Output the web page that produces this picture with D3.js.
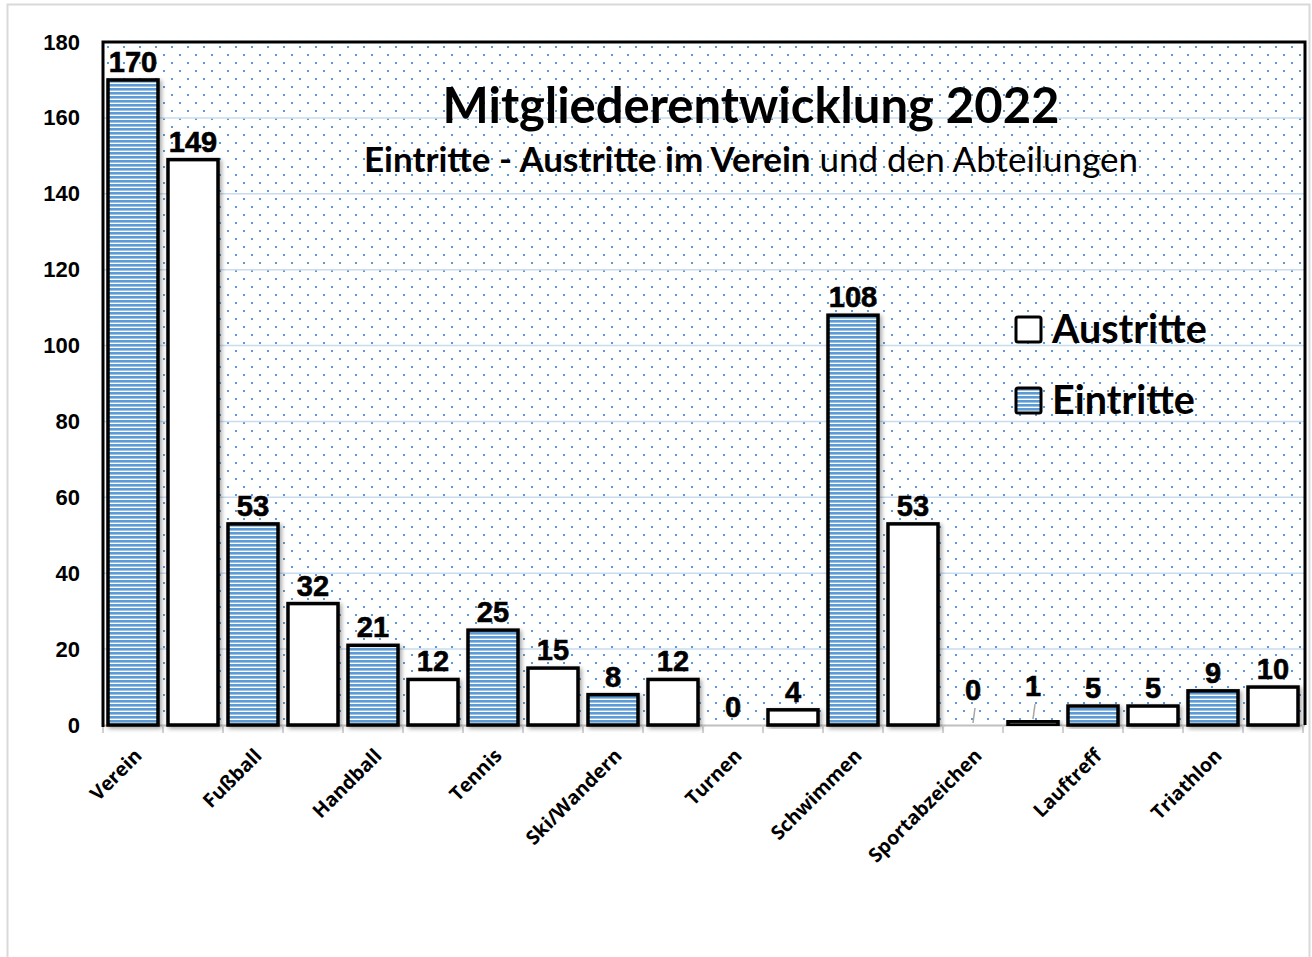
<!DOCTYPE html>
<html>
<head>
<meta charset="utf-8">
<script src="https://cdn.jsdelivr.net/npm/d3@7"></script>
<style>
  body { margin: 0; background: #fff; }
  svg { display: block; }
</style>
</head>
<body>
<div id="chart"></div>
<script>
// Data
const categories = ["Verein", "Fußball", "Handball", "Tennis", "Ski/Wandern", "Turnen", "Schwimmen", "Sportabzeichen", "Lauftreff", "Triathlon"];
const eintritte = [170, 53, 21, 25, 8, 0, 108, 0, 5, 9];
const austritte = [149, 32, 12, 15, 12, 4, 53, 1, 5, 10];
const yTicks = [0, 20, 40, 60, 80, 100, 120, 140, 160, 180];

const width = 1312;
const height = 957;
const plot = { left: 103, right: 1303, top: 42, bottom: 725 };

const blue = "#5b9bd5";

// one slot per bar: Eintritte first, then Austritte
const slots = [];
categories.forEach((c, i) => {
    slots.push({ key: c + "|E", cat: c, type: "E", value: eintritte[i], first: true });
    slots.push({ key: c + "|A", cat: c, type: "A", value: austritte[i], first: false });
});

const x = d3.scaleBand()
    .domain(slots.map(d => d.key))
    .range([plot.left, plot.right])
    .paddingInner(1 / 6)
    .paddingOuter(1 / 12);

const y = d3.scaleLinear()
    .domain([0, 180])
    .range([plot.bottom, plot.top]);

const svg = d3.select("#chart")
    .append("svg")
    .attr("width", width)
    .attr("height", height);

const defs = svg.append("defs");

// dotted background of the plot area
const dots = defs.append("pattern")
    .attr("id", "dots")
    .attr("patternUnits", "userSpaceOnUse")
    .attr("width", 16)
    .attr("height", 16)
    .attr("x", plot.left + 4)
    .attr("y", plot.top + 4);
dots.append("rect").attr("x", 0).attr("y", 0).attr("width", 2).attr("height", 2).attr("fill", blue);
dots.append("rect").attr("x", 8).attr("y", 8).attr("width", 2).attr("height", 2).attr("fill", blue);

// horizontal stripes for Eintritte
const stripes = defs.append("pattern")
    .attr("id", "stripes")
    .attr("patternUnits", "userSpaceOnUse")
    .attr("width", 8)
    .attr("height", 4);
stripes.append("rect").attr("width", 8).attr("height", 4).attr("fill", "#fff");
stripes.append("rect").attr("width", 8).attr("height", 2.6).attr("fill", blue);

const shadow = defs.append("filter")
    .attr("id", "shadow")
    .attr("x", "-20%").attr("y", "-20%")
    .attr("width", "140%").attr("height", "140%");
shadow.append("feDropShadow")
    .attr("dx", 2).attr("dy", 2)
    .attr("stdDeviation", 2)
    .attr("flood-color", "#000")
    .attr("flood-opacity", 0.35);

// outer frame
svg.append("rect")
    .attr("x", 7.5).attr("y", 4.5)
    .attr("width", 1302).attr("height", 960)
    .attr("fill", "#fff")
    .attr("stroke", "#d9d9d9")
    .attr("stroke-width", 2);

// plot background
svg.append("rect")
    .attr("x", plot.left).attr("y", plot.top)
    .attr("width", 1305 - plot.left).attr("height", plot.bottom - plot.top)
    .attr("fill", "url(#dots)");

// gridlines
svg.append("g")
    .selectAll("line")
    .data(yTicks.filter(t => t > 0 && t < 180))
    .join("line")
    .attr("x1", plot.left).attr("x2", 1305)
    .attr("y1", d => y(d)).attr("y2", d => y(d))
    .attr("stroke", "#c9dcf0")
    .attr("stroke-width", 1.5);

// y axis labels
const yAxis = svg.append("g")
    .attr("transform", `translate(${plot.left},0)`)
    .call(d3.axisLeft(y).tickValues(yTicks).tickSize(0).tickPadding(23));
yAxis.select(".domain").remove();
yAxis.selectAll("text")
    .attr("font-family", "Liberation Sans, Arial, sans-serif")
    .attr("font-weight", "bold")
    .attr("font-size", 22)
    .attr("fill", "#000");

// bottom axis line with ticks at slot boundaries
svg.append("line")
    .attr("x1", plot.left).attr("x2", 1305)
    .attr("y1", plot.bottom + 0.5).attr("y2", plot.bottom + 0.5)
    .attr("stroke", "#bfbfbf")
    .attr("stroke-width", 2);
svg.append("g")
    .selectAll("line")
    .data(d3.range(slots.length + 1))
    .join("line")
    .attr("x1", i => plot.left + i * x.step())
    .attr("x2", i => plot.left + i * x.step())
    .attr("y1", plot.bottom)
    .attr("y2", plot.bottom + 8)
    .attr("stroke", "#d0d0d0")
    .attr("stroke-width", 2);

// bars
svg.append("g")
    .selectAll("rect")
    .data(slots.filter(d => d.value > 0))
    .join("rect")
    .attr("x", d => x(d.key))
    .attr("y", d => y(d.value))
    .attr("width", x.bandwidth())
    .attr("height", d => y(0) - y(d.value))
    .attr("fill", d => d.type === "E" ? "url(#stripes)" : "#fff")
    .attr("stroke", "#000")
    .attr("stroke-width", 3.5)
    .attr("filter", "url(#shadow)");

// plot border: left, top, right
svg.append("path")
    .attr("d", `M${plot.left},${plot.bottom + 2}V${plot.top}H1305V${plot.bottom}`)
    .attr("fill", "none")
    .attr("stroke", "#000")
    .attr("stroke-width", 3);

// value labels (Sportabzeichen labels are lifted with a leader line)
const lifted = d => d.cat === "Sportabzeichen";
const labelY = d => y(d.value) - 8 - (lifted(d) ? 17 : 0);

svg.append("g")
    .selectAll("line")
    .data(slots.filter(lifted))
    .join("line")
    .attr("x1", d => x(d.key) + x.bandwidth() / 2 + 2)
    .attr("x2", d => x(d.key) + x.bandwidth() / 2)
    .attr("y1", d => labelY(d) + 8)
    .attr("y2", d => y(d.value) - 2)
    .attr("stroke", "#a6a6a6")
    .attr("stroke-width", 1.5);

svg.append("g")
    .selectAll("text")
    .data(slots)
    .join("text")
    .attr("x", d => x(d.key) + x.bandwidth() / 2)
    .attr("y", labelY)
    .attr("text-anchor", "middle")
    .attr("font-family", "Liberation Sans, Arial, sans-serif")
    .attr("font-weight", "bold")
    .attr("font-size", 29)
    .attr("stroke", "#000")
    .attr("stroke-width", 0.6)
    .attr("fill", "#000")
    .text(d => d.value);

// category labels
svg.append("g")
    .selectAll("text")
    .data(slots.filter(d => d.first))
    .join("text")
    .attr("transform", d => `translate(${x(d.key) + x.bandwidth() / 2 + 10},757) rotate(-45)`)
    .attr("text-anchor", "end")
    .attr("font-family", "Open Sans, sans-serif")
    .attr("font-weight", "bold")
    .attr("font-size", 19.5)
    .attr("fill", "#000")
    .text(d => d.cat);

// titles
svg.append("text")
    .attr("x", 751).attr("y", 123)
    .attr("text-anchor", "middle")
    .attr("font-family", "Lato, sans-serif")
    .attr("font-weight", "bold")
    .attr("font-size", 49)
    .attr("fill", "#000")
    .text("Mitgliederentwicklung 2022");

const sub = svg.append("text")
    .attr("x", 751).attr("y", 172)
    .attr("text-anchor", "middle")
    .attr("font-family", "Lato, sans-serif")
    .attr("font-size", 35)
    .attr("fill", "#000");
sub.append("tspan").attr("font-weight", "bold").text("Eintritte - Austritte im Verein");
sub.append("tspan").text(" und den Abteilungen");

// legend
const legend = svg.append("g");
const legendItems = [
    { label: "Austritte", fill: "#fff", y: 317 },
    { label: "Eintritte", fill: "url(#stripes)", y: 388 }
];
legend.selectAll("rect")
    .data(legendItems)
    .join("rect")
    .attr("x", 1016).attr("y", d => d.y)
    .attr("width", 25).attr("height", 25)
    .attr("rx", 2)
    .attr("fill", d => d.fill)
    .attr("stroke", "#000")
    .attr("stroke-width", 3);
legend.selectAll("text")
    .data(legendItems)
    .join("text")
    .attr("x", 1052).attr("y", d => d.y + 26)
    .attr("font-family", "Lato, sans-serif")
    .attr("font-weight", "bold")
    .attr("font-size", 39.5)
    .attr("fill", "#000")
    .text(d => d.label);
</script>
</body>
</html>
